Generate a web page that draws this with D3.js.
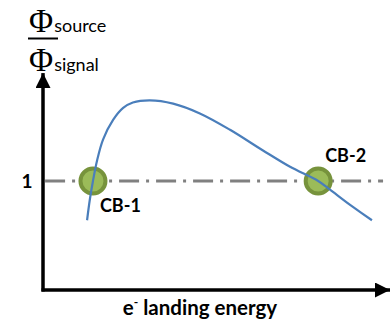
<!DOCTYPE html>
<html><head><meta charset="utf-8">
<script src="https://cdn.jsdelivr.net/npm/d3@7"></script>
<style>html,body{margin:0;padding:0;background:#fff}svg{display:block}</style>
</head><body>
<script>
// Data (abstract units)
const curveX = [1.27,1.35,1.44,1.56,1.73,2.02,2.31,2.59,3.08,3.75,4.52,5.39,6.34,7.12,7.93,8.27,8.85,9.48];
const curveY = [0.64,0.83,1.00,1.19,1.38,1.56,1.67,1.72,1.74,1.71,1.62,1.47,1.28,1.13,1.00,0.92,0.78,0.64];
const crossNames = ["CB-1","CB-2"];
const crossX = [1.44,7.93];
const refValue = [1];
const yTickLabels = ["1"];

const W = 391, H = 324;
const svg = d3.select("body").append("svg").attr("width", W).attr("height", H);
const x = d3.scaleLinear().domain([0,10]).range([43,390]);
const y = d3.scaleLinear().domain([0,2]).range([290,72]);

const defs = svg.append("defs");
defs.append("marker").attr("id","arrY").attr("viewBox","0 0 10 10").attr("refX",10).attr("refY",5)
  .attr("markerUnits","userSpaceOnUse").attr("markerWidth",16).attr("markerHeight",15).attr("orient","auto")
  .append("path").attr("d","M0,0 L10,5 L0,10 Z").attr("fill","#000");

// reference dash-dot line
svg.append("line").attr("x1",x(0.06)).attr("x2",x(9.8)).attr("y1",y(refValue[0])).attr("y2",y(refValue[0]))
  .attr("stroke","#808080").attr("stroke-width",3).attr("stroke-dasharray","20,7,3,7");

// axes
svg.append("line").attr("x1",x(0)).attr("x2",x(0)).attr("y1",y(0)+1.5).attr("y2",y(1.99))
  .attr("stroke","#000").attr("stroke-width",3.5).attr("marker-end","url(#arrY)");
svg.append("line").attr("x1",x(0)-1.5).attr("x2",x(10)).attr("y1",y(0)).attr("y2",y(0))
  .attr("stroke","#000").attr("stroke-width",3.5).attr("marker-end","url(#arrY)");

// crossing circles
svg.selectAll("circle.cb").data(crossX).join("circle").attr("class","cb")
  .attr("cx",d=>x(d)).attr("cy",y(refValue[0])).attr("r",12.5)
  .attr("fill","#9BBB59").attr("stroke","#77933C").attr("stroke-width",4);

// curve
const pts = curveX.map((v,i)=>[v,curveY[i]]);
svg.append("path").datum(pts)
  .attr("d", d3.line().x(d=>x(d[0])).y(d=>y(d[1])).curve(d3.curveCatmullRom.alpha(0.5)))
  .attr("fill","none").attr("stroke","#4A7EBB").attr("stroke-width",2.2);

const F = "Lato, 'Open Sans', sans-serif";
// labels
svg.append("text").attr("x",x(crossX[0])+7).attr("y",212).text(crossNames[0])
  .attr("font-family",F).attr("font-weight","bold").attr("font-size",18).attr("fill","#000");
svg.append("text").attr("x",x(crossX[1])+7).attr("y",162).text(crossNames[1])
  .attr("font-family",F).attr("font-weight","bold").attr("font-size",18).attr("fill","#000");

svg.append("text").attr("x",32.5).attr("y",y(refValue[0])+7).attr("text-anchor","end").text(yTickLabels[0])
  .attr("font-family",F).attr("font-weight","bold").attr("font-size",19);

// x axis title
const xt = svg.append("text").attr("x",200).attr("y",315).attr("text-anchor","middle")
  .attr("font-family",F).attr("font-weight","bold").attr("font-size",20.5);
xt.append("tspan").text("e");
xt.append("tspan").text("-").attr("font-size",12).attr("dy",-9);
xt.append("tspan").text(" landing energy").attr("dy",9);

// y axis title: fraction
const SERIF = "'Liberation Serif','DejaVu Serif',serif";
function phi(yb, sub){
  const t = svg.append("text").attr("x",29).attr("y",yb);
  t.append("tspan").text("Φ").attr("font-family",SERIF).attr("font-size",33);
  t.append("tspan").text(sub).attr("font-family",F).attr("font-size",18).attr("dx",1);
}
phi(32,"source");
svg.append("line").attr("x1",28).attr("x2",58).attr("y1",38.5).attr("y2",38.5).attr("stroke","#000").attr("stroke-width",2);
phi(71,"signal");
</script>
</body></html>
